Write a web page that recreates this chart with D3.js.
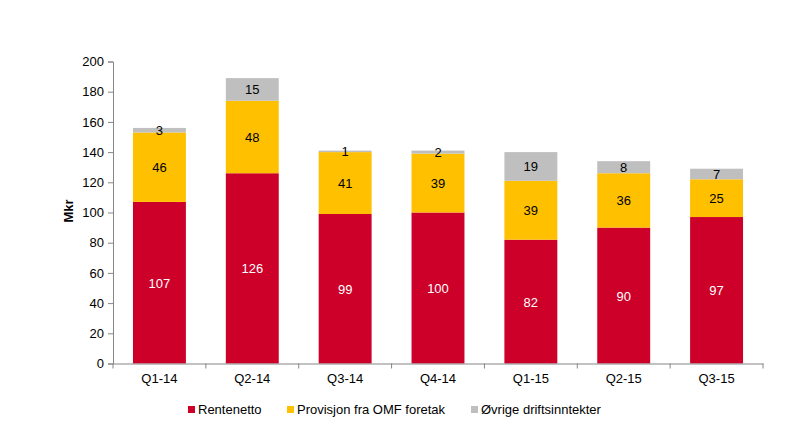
<!DOCTYPE html>
<html>
<head>
<meta charset="utf-8">
<script src="https://cdn.jsdelivr.net/npm/d3@7"></script>
<style>
	body { margin: 0; background: #fff; }
	svg text { font-family: Arial, 'Liberation Sans', sans-serif; }
</style>
</head>
<body>
<div id="chart"></div>
<script>
const quarters = ['Q1-14', 'Q2-14', 'Q3-14', 'Q4-14', 'Q1-15', 'Q2-15', 'Q3-15'];
const rentenetto = [107, 126, 99, 100, 82, 90, 97];
const provisjon = [46, 48, 41, 39, 39, 36, 25];
const ovrige = [3, 15, 1, 2, 19, 8, 7];
const seriesNames = ['Rentenetto', 'Provisjon fra OMF foretak', 'Øvrige driftsinntekter'];
const yTicks = [0, 20, 40, 60, 80, 100, 120, 140, 160, 180, 200];

const width = 787;
const height = 428;
const colors = ['#cc0029', '#ffc000', '#bfbfbf'];
const labelColors = ['#fff', '#000', '#000'];
const fontSize = '13px';

const svg = d3
	.select('#chart')
	.append('svg')
	.attr('width', width)
	.attr('height', height);

const marginLeft = 113;
const plotRight = 763;
const plotTop = 61.5;
const plotBottom = 363.5;

const x = d3
	.scaleBand()
	.domain(quarters)
	.range([marginLeft, plotRight])
	.paddingInner(0.43)
	.paddingOuter(0.215);

const y = d3.scaleLinear().domain([0, 200]).range([plotBottom, plotTop]);

// build rows for the stack
const rows = quarters.map((q, i) => ({
	q: q,
	r: rentenetto[i],
	p: provisjon[i],
	o: ovrige[i],
}));
const stack = d3.stack().keys(['r', 'p', 'o'])(rows);

const layers = svg
	.selectAll('.layer')
	.data(stack)
	.join('g')
	.attr('class', 'layer')
	.attr('fill', (d, i) => colors[i]);

layers
	.selectAll('rect')
	.data((d) => d)
	.join('rect')
	.attr('x', (d) => x(d.data.q))
	.attr('width', x.bandwidth())
	.attr('y', (d) => y(d[1]))
	.attr('height', (d) => y(d[0]) - y(d[1]));

layers
	.selectAll('text')
	.data((d, i) => d.map((v) => ({ v: v, i: i })))
	.join('text')
	.attr('x', (d) => x(d.v.data.q) + x.bandwidth() / 2)
	.attr('y', (d) => (y(d.v[0]) + y(d.v[1])) / 2 + 5)
	.attr('text-anchor', 'middle')
	.attr('fill', (d) => labelColors[d.i])
	.style('font-size', fontSize)
	.text((d) => d.v[1] - d.v[0]);

// y axis
const yAxis = svg
	.append('g')
	.attr('transform', `translate(${marginLeft},0)`)
	.call(d3.axisLeft(y).tickValues(yTicks).tickSize(5).tickPadding(4));
yAxis.select('.domain').attr('stroke', '#868686');
yAxis.selectAll('.tick line').attr('stroke', '#868686');
yAxis
	.selectAll('.tick text')
	.attr('fill', '#000')
	.style('font-size', fontSize)
	.style('font-family', 'Arial, Liberation Sans, sans-serif');

// x axis
const xAxis = svg
	.append('g')
	.attr('transform', `translate(0,${plotBottom})`)
	.call(d3.axisBottom(x).tickSize(0).tickPadding(10));
xAxis.select('.domain').attr('stroke', '#868686');
xAxis
	.selectAll('.tick text')
	.attr('fill', '#000')
	.style('font-size', fontSize)
	.style('font-family', 'Arial, Liberation Sans, sans-serif');

const boundaries = d3.range(quarters.length + 1).map((i) => marginLeft + x.step() * i);
xAxis
	.selectAll('.sep')
	.data(boundaries)
	.join('line')
	.attr('class', 'sep')
	.attr('x1', (d) => d)
	.attr('x2', (d) => d)
	.attr('y1', 0)
	.attr('y2', 5)
	.attr('stroke', '#868686');

svg
	.append('text')
	.attr('transform', 'translate(73,211) rotate(-90)')
	.attr('text-anchor', 'middle')
	.style('font-size', fontSize)
	.style('font-weight', 'bold')
	.text('Mkr');

// legend
const legendX = [188, 287, 471];
const legend = svg
	.selectAll('.legend')
	.data(seriesNames)
	.join('g')
	.attr('class', 'legend')
	.attr('transform', (d, i) => `translate(${legendX[i]},406)`);

legend
	.append('rect')
	.attr('width', 7)
	.attr('height', 7)
	.attr('fill', (d, i) => colors[i]);

legend
	.append('text')
	.attr('x', 10)
	.attr('y', 8)
	.style('font-size', fontSize)
	.text((d) => d);
</script>
</body>
</html>
